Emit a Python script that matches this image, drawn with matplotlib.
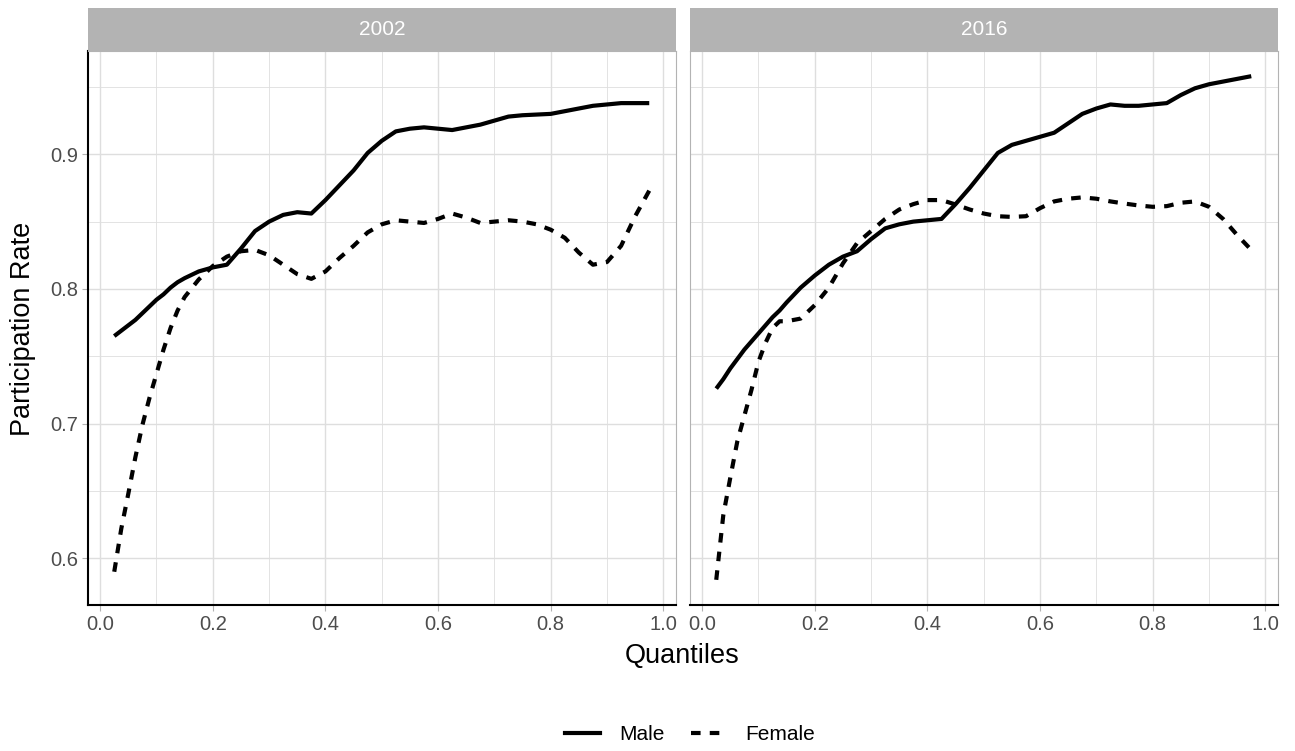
import matplotlib
matplotlib.use("Agg")
import matplotlib.pyplot as plt
from matplotlib.lines import Line2D

# ---------------- data ----------------
quantiles = [0.025, 0.0375, 0.05, 0.0625, 0.075, 0.0875, 0.1, 0.1125, 0.125, 0.1375,
             0.15, 0.175, 0.2, 0.225, 0.25, 0.275, 0.3, 0.325, 0.35, 0.375,
             0.4, 0.425, 0.45, 0.475, 0.5, 0.525, 0.55, 0.575, 0.6, 0.625,
             0.65, 0.675, 0.7, 0.725, 0.75, 0.775, 0.8, 0.825, 0.85, 0.875,
             0.9, 0.925, 0.95, 0.975]

male_2002 = [0.765, 0.769, 0.773, 0.777, 0.782, 0.787, 0.792, 0.796, 0.801, 0.805,
             0.808, 0.813, 0.816, 0.818, 0.830, 0.843, 0.850, 0.855, 0.857, 0.856,
             0.866, 0.877, 0.888, 0.901, 0.910, 0.917, 0.919, 0.920, 0.919, 0.918,
             0.920, 0.922, 0.925, 0.928, 0.929, 0.9295, 0.930, 0.932, 0.934, 0.936,
             0.937, 0.938, 0.938, 0.938]

female_2002 = [0.590, 0.622, 0.648, 0.675, 0.699, 0.719, 0.737, 0.755, 0.771, 0.784,
               0.794, 0.807, 0.817, 0.824, 0.828, 0.829, 0.825, 0.818, 0.811, 0.8075,
               0.813, 0.823, 0.832, 0.842, 0.848, 0.851, 0.850, 0.849, 0.852, 0.856,
               0.853, 0.849, 0.850, 0.851, 0.850, 0.848, 0.844, 0.838, 0.827, 0.818,
               0.820, 0.832, 0.854, 0.873]

male_2016 = [0.726, 0.733, 0.741, 0.748, 0.755, 0.761, 0.767, 0.773, 0.779, 0.784,
             0.790, 0.801, 0.810, 0.818, 0.824, 0.828, 0.837, 0.845, 0.848, 0.850,
             0.851, 0.852, 0.863, 0.875, 0.888, 0.901, 0.907, 0.910, 0.913, 0.916,
             0.923, 0.930, 0.934, 0.937, 0.936, 0.936, 0.937, 0.938, 0.944, 0.949,
             0.952, 0.954, 0.956, 0.958]

female_2016 = [0.584, 0.632, 0.660, 0.687, 0.706, 0.725, 0.746, 0.760, 0.771, 0.776,
               0.776, 0.778, 0.788, 0.801, 0.819, 0.834, 0.843, 0.852, 0.859, 0.863,
               0.866, 0.866, 0.8627, 0.859, 0.856, 0.854, 0.8535, 0.854, 0.860, 0.865,
               0.867, 0.868, 0.867, 0.865, 0.8634, 0.862, 0.861, 0.8615, 0.864, 0.865,
               0.861, 0.852, 0.840, 0.829]

years = ["2002", "2016"]
sex_labels = ["Male", "Female"]
x_ticks = [0.0, 0.2, 0.4, 0.6, 0.8, 1.0]
x_tick_labels = ["0.0", "0.2", "0.4", "0.6", "0.8", "1.0"]
x_minor = [0.1, 0.3, 0.5, 0.7, 0.9]
y_ticks = [0.6, 0.7, 0.8, 0.9]
y_tick_labels = ["0.6", "0.7", "0.8", "0.9"]
y_minor = [0.65, 0.75, 0.85, 0.95]

panel_data = {
    "2002": (male_2002, female_2002),
    "2016": (male_2016, female_2016),
}

# ---------------- style ----------------
plt.rcParams["font.family"] = ["Liberation Sans", "DejaVu Sans"]
W, H = 1295, 751
fig = plt.figure(figsize=(W / 100, H / 100), dpi=100)
fig.patch.set_facecolor("white")

def px_axes(x0, y0, x1, y1):
    return fig.add_axes([x0 / W, 1 - y1 / H, (x1 - x0) / W, (y1 - y0) / H])

panels = [(87.5, 676), (689.5, 1278)]
p_top, p_bottom = 51, 605
s_top = 8.3

allx = quantiles
ally = male_2002 + female_2002 + male_2016 + female_2016
xr = max(allx) - min(allx)
yr = max(ally) - min(ally)
xlim = (min(allx) - 0.05 * xr, max(allx) + 0.05 * xr)
ylim = (min(ally) - 0.05 * yr, max(ally) + 0.05 * yr)

grid_col = "#DEDEDE"
border_col = "#B3B3B3"
tick_col = "#4D4D4D"
lw_data = 3.0
dash = (0, (2.3, 2.2))

for i, (year, (x0, x1)) in enumerate(zip(years, panels)):
    ax = px_axes(x0, p_top, x1, p_bottom)
    ax.set_xlim(*xlim)
    ax.set_ylim(*ylim)
    ax.set_xticks(x_ticks)
    ax.set_xticks(x_minor, minor=True)
    ax.set_yticks(y_ticks)
    ax.set_yticks(y_minor, minor=True)
    ax.set_xticklabels(x_tick_labels)
    ax.grid(which="major", color=grid_col, lw=1.0, zorder=0)
    ax.grid(which="minor", color=grid_col, lw=0.6, zorder=0)
    ax.set_axisbelow(True)
    ax.tick_params(which="minor", length=0)
    ax.tick_params(which="major", length=4, width=0.8, color=border_col,
                   labelcolor=tick_col, labelsize=14.5, pad=3)
    if i == 0:
        ax.set_yticklabels(y_tick_labels)
    else:
        ax.tick_params(axis="y", which="both", left=False, labelleft=False)
    for side in ["top", "right", "left", "bottom"]:
        ax.spines[side].set_color(border_col)
        ax.spines[side].set_linewidth(0.8)
    ax.spines["bottom"].set_color("black")
    ax.spines["bottom"].set_linewidth(1.5)
    if i == 0:
        ax.spines["left"].set_color("black")
        ax.spines["left"].set_linewidth(1.5)

    male, female = panel_data[year]
    ax.plot(quantiles, male, color="black", lw=lw_data, solid_capstyle="butt",
            solid_joinstyle="round", zorder=3)
    ax.plot(quantiles, female, color="black", lw=lw_data, linestyle=dash,
            dash_capstyle="butt", zorder=3)

    # facet strip
    sax = px_axes(x0, s_top, x1, p_top)
    sax.set_facecolor(border_col)
    sax.set_xticks([])
    sax.set_yticks([])
    for side in sax.spines.values():
        side.set_visible(False)
    sax.text(0.5, 0.5, year, color="white", fontsize=15, ha="center", va="center",
             transform=sax.transAxes)

# axis titles
fig.text(682.5 / W, 1 - 656 / H, "Quantiles", fontsize=19.5, ha="center",
         va="center", color="black")
fig.text(23 / W, 1 - 329 / H, "Participation Rate", fontsize=19.5, ha="center",
         va="center", rotation=90, color="black")

# legend
handles = [Line2D([0], [0], color="black", lw=lw_data),
           Line2D([0], [0], color="black", lw=lw_data, linestyle=dash)]
fig.legend(handles, sex_labels, loc="center", bbox_to_anchor=(690 / W, 1 - 735 / H),
           ncol=2, frameon=False, fontsize=15, handlelength=1.7,
           handletextpad=0.9, columnspacing=1.3)

fig.savefig("out.png", dpi=100, facecolor="white")
